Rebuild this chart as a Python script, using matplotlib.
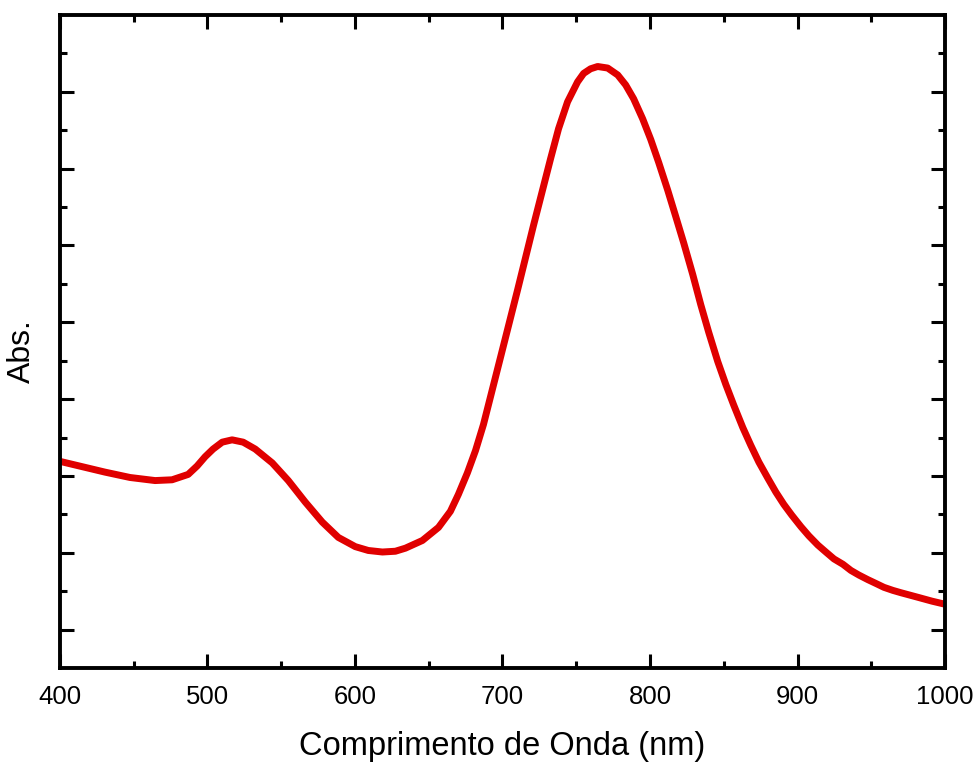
import matplotlib.pyplot as plt
from matplotlib.ticker import MultipleLocator

# UV-Vis spectrum (arbitrary absorbance units)
wavelength = [400.0, 430.5, 447.5, 464.5, 476.0, 486.9, 493.0, 498.4, 503.8,
              510.0, 516.7, 524.2, 532.4, 543.9, 554.8, 566.3, 577.8, 588.7,
              600.2, 609.0, 618.6, 627.4, 634.2, 645.7, 656.6, 664.7, 670.1,
              676.2, 681.7, 687.1, 698.6, 710.2, 721.0, 732.6, 738.0, 744.1,
              750.9, 755.0, 759.7, 764.5, 771.3, 778.1, 783.5, 788.9, 795.0,
              800.5, 805.9, 812.0, 817.4, 822.9, 829.0, 834.4, 839.8, 845.9,
              851.4, 856.8, 862.9, 868.3, 873.8, 879.9, 885.3, 890.7, 896.1,
              902.3, 907.7, 913.8, 919.2, 924.7, 930.8, 936.2, 941.6, 947.7,
              953.2, 958.6, 964.7, 970.1, 981.7, 991.2, 1000.0]
absorbance = [0.269, 0.255, 0.248, 0.244, 0.245, 0.252, 0.263, 0.275, 0.285,
              0.294, 0.297, 0.294, 0.285, 0.267, 0.244, 0.216, 0.190, 0.170,
              0.158, 0.153, 0.151, 0.152, 0.156, 0.166, 0.183, 0.204, 0.226,
              0.254, 0.283, 0.317, 0.404, 0.492, 0.576, 0.663, 0.702, 0.737,
              0.763, 0.774, 0.780, 0.783, 0.781, 0.772, 0.759, 0.741, 0.715,
              0.688, 0.658, 0.622, 0.588, 0.553, 0.512, 0.473, 0.437, 0.399,
              0.369, 0.342, 0.313, 0.290, 0.268, 0.247, 0.229, 0.213, 0.199,
              0.184, 0.172, 0.160, 0.151, 0.142, 0.135, 0.127, 0.121, 0.115,
              0.110, 0.105, 0.101, 0.098, 0.092, 0.087, 0.083]


def main():
    plt.rcParams['font.family'] = ['Liberation Sans', 'DejaVu Sans']
    fig = plt.figure(figsize=(9.78, 7.63), dpi=100)
    ax = fig.add_axes([0.0613, 0.1245, 0.905, 0.8558])

    ax.plot(wavelength, absorbance, color='#e00000', linewidth=5,
            solid_capstyle='butt', solid_joinstyle='round')

    ax.set_xlim(400, 1000)
    ax.set_ylim(0, 0.85)
    ax.xaxis.set_major_locator(MultipleLocator(100))
    ax.xaxis.set_minor_locator(MultipleLocator(50))
    ax.set_yticks([0.05 + 0.1 * i for i in range(8)])
    ax.set_yticks([0.1 * i for i in range(1, 9)], minor=True)
    ax.set_yticklabels([])

    for side in ax.spines.values():
        side.set_linewidth(2.8)
    ax.tick_params(which='both', direction='in', top=True, right=True,
                   width=2.2, labelsize=18.5, pad=12)
    ax.tick_params(which='major', length=10)
    ax.tick_params(which='minor', length=5)

    ax.set_xlabel('Comprimento de Onda (nm)', fontsize=23.5, labelpad=16)
    ax.set_ylabel('Abs.', fontsize=23)
    ax.yaxis.set_label_coords(-0.026, 0.4855)

    fig.savefig('out.png', dpi=100)


if __name__ == "__main__":
    main()
